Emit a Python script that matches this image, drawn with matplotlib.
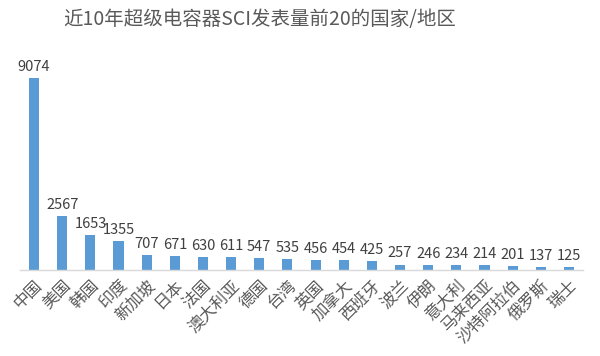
import matplotlib
matplotlib.use("Agg")
import matplotlib.pyplot as plt

# ─── Data ────────────────────────────────────────────────────────────────────
COUNTRIES = ["中国", "美国", "韩国", "印度", "新加坡", "日本", "法国", "澳大利亚",
             "德国", "台湾", "英国", "加拿大", "西班牙", "波兰", "伊朗", "意大利",
             "马来西亚", "沙特阿拉伯", "俄罗斯", "瑞士"]
PAPERS = [9074, 2567, 1653, 1355, 707, 671, 630, 611, 547, 535,
          456, 454, 425, 257, 246, 234, 214, 201, 137, 125]

TITLE = "近10年超级电容器SCI发表量前20的国家/地区"

# ─── Style ───────────────────────────────────────────────────────────────────
COLOUR_BAR = "#5B9BD5"
COLOUR_TEXT = "#595959"
COLOUR_AXIS = "#D9D9D9"

plt.rcParams["font.family"] = ["Noto Sans CJK SC", "DejaVu Sans"]


def main():
    fig = plt.figure(figsize=(6.0, 3.56), dpi=100)
    ax = fig.add_axes([20 / 600, 86 / 356, 563 / 600, 200 / 356])

    x = range(len(COUNTRIES))
    bars = ax.bar(x, PAPERS, width=0.36, color=COLOUR_BAR)
    ax.bar_label(bars, labels=[str(v) for v in PAPERS], padding=3,
                 fontsize=10.5, color="#404040")

    ax.set_xlim(-0.5, len(COUNTRIES) - 0.5)
    ax.set_ylim(0, 9074 * 200 / 192)

    ax.set_xticks(list(x))
    ax.set_xticklabels(COUNTRIES, rotation=45, ha="right", va="top",
                       rotation_mode="anchor", fontsize=11.8, color=COLOUR_TEXT)
    ax.tick_params(axis="x", length=0, pad=5)
    ax.set_yticks([])

    for side in ["top", "right", "left"]:
        ax.spines[side].set_visible(False)
    ax.spines["bottom"].set_color(COLOUR_AXIS)
    ax.spines["bottom"].set_linewidth(1.0)

    fig.text(260 / 600, 1 - 19 / 356, TITLE, ha="center", va="center",
             fontsize=14, color=COLOUR_TEXT)

    fig.savefig("out.png", dpi=100)
    plt.close(fig)


if __name__ == "__main__":
    main()
